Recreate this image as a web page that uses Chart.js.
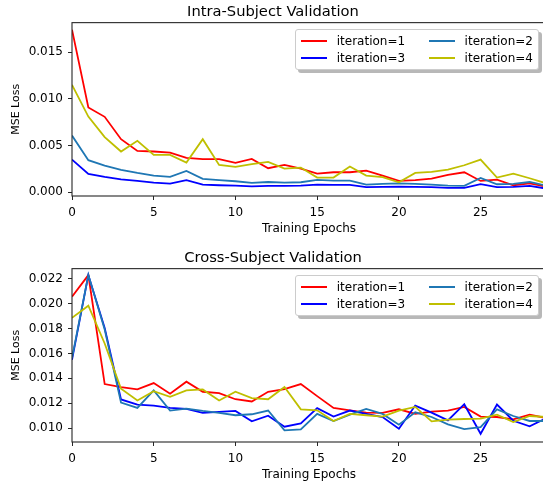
<!DOCTYPE html>
<html>
<head>
<meta charset="utf-8">
<script src="https://cdn.jsdelivr.net/npm/chart.js@4"></script>
<style>
  html, body { margin: 0; padding: 0; background: #fff; width: 543px; height: 485px; overflow: hidden; }
  .wrap { position: absolute; left: 0; width: 560px; height: 242px; }
  .legend { position: absolute; background: #fff; border: 1px solid #ccc; border-radius: 3px;
            box-shadow: 3px 3px 0 rgba(0,0,0,0.28); box-sizing: border-box;
            display: grid; grid-template-rows: 17.7px 17.7px; grid-auto-flow: column;
            column-gap: 24px; padding: 2px 5px 0 5px;
            font-family: "DejaVu Sans", sans-serif; font-size: 12px; color: #000; }
  .legend .item { display: flex; align-items: center; white-space: nowrap; }
  .legend .swatch { width: 26px; height: 2px; margin-right: 9.5px; }
</style>
</head>
<body>
<div class="wrap" style="top:0px"><canvas id="intra" width="560" height="242"></canvas></div>
<div class="wrap" style="top:246px"><canvas id="cross" width="560" height="242"></canvas></div>
<script>
// epochs on the x axis
const epochs = [0,1,2,3,4,5,6,7,8,9,10,11,12,13,14,15,16,17,18,19,20,21,22,23,24,25,26,27,28,29];
const xTicks = [0, 5, 10, 15, 20, 25];

// Intra-Subject Validation
const intraIter1 = [0.0174,0.00907,0.00807,0.00568,0.00443,0.00436,0.00425,0.00368,0.00354,0.00354,0.00314,0.00357,0.00257,0.00293,0.00252,0.0020,0.00214,0.00214,0.00232,0.00179,0.00121,0.00129,0.00146,0.00186,0.00214,0.00121,0.00136,0.00075,0.00096,0.0006];
const intraIter3 = [0.0035,0.00196,0.00164,0.00139,0.00121,0.00104,0.00093,0.00129,0.00082,0.00075,0.00071,0.00064,0.00068,0.00068,0.00071,0.00082,0.00079,0.00079,0.00054,0.00057,0.0006,0.00057,0.00054,0.00046,0.00046,0.00086,0.00054,0.00057,0.00068,0.0004];
const intraIter2 = [0.00607,0.00343,0.00286,0.00239,0.00207,0.00179,0.00164,0.00229,0.00143,0.00129,0.00118,0.001,0.0011,0.00104,0.00107,0.00132,0.00125,0.00125,0.00082,0.00089,0.00096,0.00089,0.00082,0.00071,0.00068,0.00154,0.00086,0.00089,0.0011,0.0007];
const intraIter4 = [0.0115,0.0081,0.0059,0.00436,0.0055,0.0040,0.0040,0.00318,0.00568,0.00293,0.00271,0.0030,0.00325,0.00254,0.00264,0.00157,0.00157,0.00275,0.00179,0.00161,0.00107,0.00207,0.00218,0.00243,0.00289,0.0035,0.00157,0.002,0.0015,0.00096];
const intraYTicks = [0, 0.005, 0.010, 0.015];

// Cross-Subject Validation
const crossIter1 = [0.02057,0.0223,0.01354,0.0133,0.01311,0.01362,0.01276,0.01373,0.01292,0.01281,0.01232,0.01214,0.01292,0.01314,0.01354,0.01257,0.01162,0.01143,0.01124,0.01122,0.01151,0.01114,0.01132,0.01141,0.0117,0.01092,0.01089,0.0107,0.01108,0.01081];
const crossIter3 = [0.01549,0.0223,0.01805,0.0123,0.01189,0.01181,0.01162,0.01154,0.01122,0.0113,0.01138,0.01054,0.011,0.01011,0.01038,0.0116,0.01092,0.01141,0.01114,0.01089,0.00995,0.01181,0.01124,0.01062,0.01192,0.00954,0.01189,0.01059,0.01014,0.01078];
const crossIter2 = [0.01562,0.0223,0.01792,0.01205,0.01162,0.01303,0.01141,0.01157,0.01138,0.01122,0.01103,0.01111,0.01141,0.00981,0.00989,0.01114,0.01057,0.01108,0.01154,0.01114,0.01027,0.01127,0.01089,0.0103,0.00992,0.01008,0.01151,0.01097,0.01057,0.01057];
const crossIter4 = [0.01886,0.01984,0.0168,0.01316,0.01222,0.01297,0.01251,0.01303,0.01311,0.01222,0.01292,0.01241,0.01232,0.0133,0.01151,0.01143,0.01057,0.01114,0.01103,0.01092,0.01141,0.0117,0.01054,0.01068,0.01073,0.01076,0.01108,0.01049,0.01097,0.01089];
const crossYTicks = [0.010, 0.012, 0.014, 0.016, 0.018, 0.020, 0.022];

const seriesLabels = ['iteration=1', 'iteration=3', 'iteration=2', 'iteration=4'];
const seriesColors = ['#ff0000', '#0000ff', '#1f77b4', '#bfbf00'];

const FONT = '"DejaVu Sans", sans-serif';

// box around the axes (matplotlib spines)
const frame = {
  id: 'frame',
  afterDraw(chart) {
    const a = chart.chartArea, ctx = chart.ctx;
    ctx.save();
    ctx.strokeStyle = '#262626';
    ctx.lineWidth = 1.1;
    ctx.strokeRect(a.left, a.top, a.right - a.left, a.bottom - a.top);
    ctx.restore();
  }
};

// legend inside the axes, 2 columns, built from the datasets
const htmlLegend = {
  id: 'htmlLegend',
  afterUpdate(chart) {
    const parent = chart.canvas.parentNode;
    let box = parent.querySelector('.legend');
    if (!box) { box = document.createElement('div'); box.className = 'legend'; parent.appendChild(box); }
    box.innerHTML = '';
    chart.data.datasets.forEach(ds => {
      const item = document.createElement('div');
      item.className = 'item';
      const sw = document.createElement('span');
      sw.className = 'swatch';
      sw.style.background = ds.borderColor;
      const tx = document.createElement('span');
      tx.textContent = ds.label;
      item.appendChild(sw); item.appendChild(tx);
      box.appendChild(item);
    });
    const a = chart.chartArea;
    box.style.top = (a.top + 6.3) + 'px';
    box.style.right = (chart.width - a.right + 7) + 'px';
    box.style.height = '41px';
  }
};

function makeChart(id, title, series, yMin, yMax, yTicks) {
  new Chart(document.getElementById(id), {
    type: 'line',
    data: {
      labels: epochs,
      datasets: series.map((s, i) => ({
        label: seriesLabels[i],
        data: s,
        borderColor: seriesColors[i],
        backgroundColor: seriesColors[i],
        borderWidth: 1.8,
        pointRadius: 0,
        tension: 0,
        order: series.length - i
      }))
    },
    options: {
      responsive: false,
      animation: false,
      layout: { padding: { left: 0, right: 14, top: 0, bottom: 0 } },
      plugins: {
        legend: { display: false },
        tooltip: { enabled: false },
        title: {
          display: true, text: title, color: '#000',
          font: { family: FONT, size: 14.7, weight: 'normal' },
          padding: { top: 3.5, bottom: 1.5 }
        }
      },
      scales: {
        x: {
          type: 'linear', min: 0, max: 29,
          afterBuildTicks: s => { s.ticks = xTicks.map(v => ({ value: v })); },
          afterFit: s => { s.height = 46; },
          grid: { drawOnChartArea: false, drawTicks: true, tickLength: 4, tickColor: '#262626' },
          border: { display: false },
          ticks: { color: '#000', font: { family: FONT, size: 12 }, padding: 6, maxRotation: 0 },
          title: { display: true, text: 'Training Epochs', color: '#000',
                   font: { family: FONT, size: 12 }, padding: { top: 0, bottom: 5.5 } }
        },
        y: {
          min: yMin, max: yMax,
          afterBuildTicks: s => { s.ticks = yTicks.map(v => ({ value: v })); },
          afterFit: s => { s.width = 72; },
          grid: { drawOnChartArea: false, drawTicks: true, tickLength: 4, tickColor: '#262626' },
          border: { display: false },
          ticks: { color: '#000', font: { family: FONT, size: 12 }, padding: 5,
                   callback: v => v.toFixed(3) },
          title: { display: true, text: 'MSE Loss', color: '#000',
                   font: { family: FONT, size: 11 }, padding: { top: 10, bottom: 0 } }
        }
      }
    },
    plugins: [frame, htmlLegend]
  });
}

makeChart('intra', 'Intra-Subject Validation',
  [intraIter1, intraIter3, intraIter2, intraIter4], -0.0004, 0.01815, intraYTicks);
makeChart('cross', 'Cross-Subject Validation',
  [crossIter1, crossIter3, crossIter2, crossIter4], 0.00888, 0.02282, crossYTicks);
</script>
</body>
</html>
